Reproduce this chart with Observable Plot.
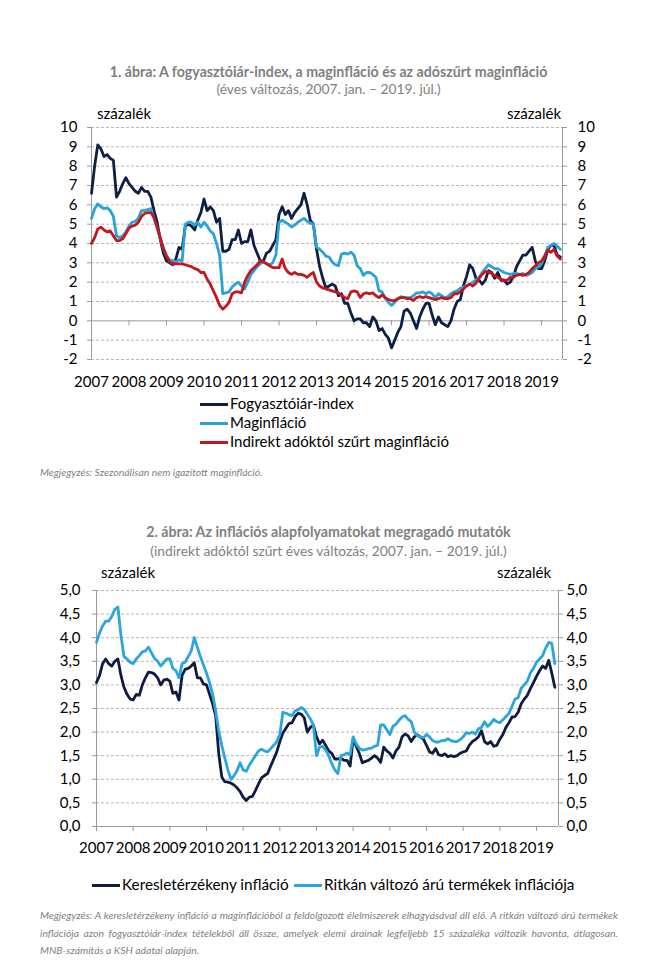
<!DOCTYPE html>
<html lang="hu"><head><meta charset="utf-8">
<script src="https://cdn.jsdelivr.net/npm/d3@7"></script>
<script src="https://cdn.jsdelivr.net/npm/@observablehq/plot@0.6"></script>
<style>
html,body{margin:0;padding:0;background:#fff}
body{width:657px;height:960px;position:relative;overflow:hidden;font-family:Lato,"Open Sans",sans-serif}
.a{position:absolute;white-space:nowrap}
.title{left:0;width:657px;text-align:center;color:#7f7f7f;font-weight:700;font-size:14.2px;line-height:16px}
.sub{left:0;width:657px;text-align:center;color:#7f7f7f;font-size:13.8px;line-height:16px}
.unit{font-size:15px;line-height:18px;color:#000}
.leg{font-size:15px;line-height:18px;color:#000}
.sw{display:inline-block;width:28px;height:3px;vertical-align:middle;margin-right:2px;position:relative;top:-1px}
.note{font-style:italic;color:#7f7f7f;font-size:10.4px;line-height:12px}
.just{width:578px;text-align:justify;text-align-last:justify;white-space:normal}
.chart{position:absolute;left:0}
</style></head><body>
<div id="c1" class="chart" style="top:100px"></div>
<div id="c2" class="chart" style="top:560px"></div>

<div class="a title" style="top:64px">1. ábra: A fogyasztóiár-index, a maginfláció és az adószűrt maginfláció</div>
<div class="a sub" style="top:81px">(éves változás, 2007. jan. – 2019. júl.)</div>
<div class="a unit" style="top:104px;left:97px">százalék</div>
<div class="a unit" style="top:104px;left:507px">százalék</div>
<div id="leg1"></div>
<div class="a note" style="top:466px;left:40px">Megjegyzés: Szezonálisan nem igazított maginfláció.</div>

<div class="a title" style="top:524px">2. ábra: Az inflációs alapfolyamatokat megragadó mutatók</div>
<div class="a sub" style="top:543px">(indirekt adóktól szűrt éves változás, 2007. jan. – 2019. júl.)</div>
<div class="a unit" style="top:563px;left:101px">százalék</div>
<div class="a unit" style="top:563px;left:497px">százalék</div>
<div id="leg2"></div>
<div class="a note just" style="top:909px;left:40px">Megjegyzés: A keresletérzékeny infláció a maginflációból a feldolgozott élelmiszerek elhagyásával áll elő. A ritkán változó árú termékek</div>
<div class="a note just" style="top:927px;left:40px">inflációja azon fogyasztóiár-index tételekből áll össze, amelyek elemi árainak legfeljebb 15 százaléka változik havonta, átlagosan.</div>
<div class="a note" style="top:944px;left:40px">MNB-számítás a KSH adatai alapján.</div>

<script>
// ---- data (monthly, 2007. jan. – 2019. júl.) ----
const years = ["2007","2008","2009","2010","2011","2012","2013","2014","2015","2016","2017","2018","2019"];

// 1. ábra
const cpi = [
  6.6, 8.0, 9.1, 8.9, 8.5, 8.6, 8.4, 8.3, 6.4, 6.7, 7.1, 7.4,
  7.1, 6.9, 6.7, 6.6, 6.9, 6.7, 6.7, 6.4, 5.7, 5.1, 4.2, 3.5,
  3.1, 3.0, 2.9, 3.2, 3.8, 3.7, 4.9, 5.0, 4.9, 4.7, 5.2, 5.6,
  6.3, 5.7, 5.9, 5.7, 5.1, 5.3, 3.6, 3.6, 3.7, 4.2, 4.2, 4.7,
  4.0, 4.1, 4.1, 4.7, 3.9, 3.5, 3.1, 3.1, 3.5, 3.6, 3.9, 4.2,
  5.5, 5.9, 5.5, 5.7, 5.3, 5.6, 5.8, 6.0, 6.6, 6.0, 5.2, 5.0,
  3.7, 2.8, 2.2, 1.7, 1.8, 1.9, 1.8, 1.3, 1.4, 0.9, 0.9, 0.4,
  0.0, 0.1, 0.1, -0.1, -0.1, -0.3, 0.2, 0.0, -0.5, -0.4, -0.7, -0.9,
  -1.4, -1.0, -0.6, -0.3, 0.5, 0.6, 0.4, 0.0, -0.4, 0.2, 0.6, 0.9,
  0.9, 0.3, -0.2, 0.2, -0.1, -0.2, -0.3, 0.0, 0.6, 1.0, 1.1, 1.8,
  2.3, 2.9, 2.7, 2.2, 2.1, 1.9, 2.1, 2.6, 2.5, 2.2, 2.5, 2.1,
  2.1, 1.9, 2.0, 2.3, 2.8, 3.1, 3.4, 3.4, 3.6, 3.8, 3.1, 2.7,
  2.7, 3.1, 3.7, 3.9, 3.9, 3.4, 3.3
];
const core = [
  5.3, 5.8, 6.05, 5.9, 5.8, 5.85, 5.7, 5.4, 4.4, 4.3, 4.4, 4.6,
  4.9, 5.1, 5.15, 5.3, 5.7, 5.7, 5.75, 5.8, 5.3, 4.8, 4.25, 3.75,
  3.35, 3.15, 3.1, 3.05, 3.15, 3.1, 5.0, 5.1, 5.1, 4.95, 5.1, 4.85,
  5.1, 4.9, 4.65, 4.5, 4.0, 3.4, 1.4, 1.45, 1.5, 1.75, 1.9, 2.0,
  1.8, 1.65, 2.0, 2.4, 2.6, 2.8, 2.95, 3.05, 2.95, 2.9, 3.0, 3.4,
  5.1, 5.2, 5.1, 5.0, 4.85, 4.95, 5.1, 5.2, 5.3, 5.15, 5.05, 5.0,
  3.8, 3.7, 3.55, 3.35, 3.3, 3.05, 2.9, 2.85, 3.45, 3.5, 3.45, 3.55,
  3.4, 2.85, 2.7, 2.35, 2.5, 2.5, 2.4, 2.25, 1.55, 1.5, 1.15, 0.95,
  0.8, 0.95, 1.15, 1.25, 1.2, 1.2, 1.2, 1.3, 1.45, 1.45, 1.5, 1.4,
  1.5, 1.4, 1.2, 1.4, 1.3, 1.2, 1.25, 1.4, 1.5, 1.55, 1.7, 1.75,
  1.8, 1.9, 2.0, 2.1, 2.25, 2.5, 2.7, 2.9, 2.8, 2.7, 2.7, 2.6,
  2.5, 2.45, 2.4, 2.45, 2.45, 2.4, 2.45, 2.35, 2.4, 2.5, 2.7, 2.8,
  2.95, 3.35, 3.8, 3.9, 4.0, 3.85, 3.7
];
const coreTaxFiltered = [
  4.0, 4.3, 4.75, 4.85, 4.7, 4.6, 4.65, 4.4, 4.15, 4.15, 4.25, 4.5,
  4.8, 4.9, 4.95, 5.1, 5.4, 5.55, 5.6, 5.6, 5.35, 4.85, 4.3, 3.75,
  3.35, 3.05, 2.95, 2.95, 2.95, 2.95, 2.9, 2.85, 2.8, 2.7, 2.65, 2.5,
  2.5, 2.15, 1.9, 1.55, 1.2, 0.8, 0.6, 0.75, 0.95, 1.4, 1.5, 1.5,
  1.45, 2.0, 2.35, 2.6, 2.75, 2.9, 3.1, 3.05, 2.95, 2.85, 2.75, 2.75,
  2.75, 3.2, 2.7, 2.5, 2.4, 2.5, 2.4, 2.4, 2.35, 2.25, 2.4, 2.5,
  2.0, 1.8, 1.7, 1.65, 1.6, 1.55, 1.5, 1.45, 1.3, 1.2, 1.15, 1.5,
  1.55, 1.5, 1.2, 1.4, 1.45, 1.4, 1.45, 1.3, 1.2, 1.35, 1.2, 1.1,
  1.05, 1.05, 1.15, 1.2, 1.2, 1.15, 1.15, 1.05, 1.2, 1.25, 1.2, 1.25,
  1.2, 1.15, 1.1, 1.15, 1.2, 1.15, 1.15, 1.2, 1.4, 1.4, 1.5, 1.65,
  1.8, 1.9, 1.8, 1.95, 2.2, 2.4, 2.55, 2.55, 2.45, 2.35, 2.25, 2.15,
  2.1, 2.1, 2.25, 2.25, 2.35, 2.4, 2.35, 2.4, 2.5, 2.7, 2.85, 3.0,
  3.1, 3.35, 3.65, 3.55, 3.7, 3.35, 3.2
];

// 2. ábra
const demandSensitive = [
  3.05, 3.2, 3.45, 3.55, 3.45, 3.4, 3.5, 3.55, 3.2, 2.95, 2.8, 2.7,
  2.68, 2.8, 2.78, 3.0, 3.15, 3.27, 3.26, 3.23, 3.15, 3.0, 3.1, 3.12,
  3.08, 2.82, 2.85, 2.68, 3.2, 3.33, 3.35, 3.4, 3.47, 3.15, 3.15, 3.02,
  3.0, 2.8, 2.6, 2.35, 1.55, 1.05, 0.95, 0.94, 0.92, 0.88, 0.82, 0.74,
  0.62, 0.55, 0.62, 0.64, 0.76, 0.9, 1.03, 1.08, 1.12, 1.28, 1.43, 1.58,
  1.8, 1.98, 2.08, 2.18, 2.2, 2.33, 2.4, 2.38, 2.3, 2.0, 2.1, 2.15,
  1.9, 1.75, 1.83, 1.72, 1.6, 1.55, 1.43, 1.43, 1.45, 1.4, 1.4, 1.28,
  1.85, 1.7, 1.55, 1.35, 1.38, 1.4, 1.45, 1.5, 1.45, 1.36, 1.68, 1.6,
  1.55, 1.45, 1.6, 1.68, 1.9, 1.96, 1.92, 1.8, 1.9, 1.94, 1.9, 1.85,
  1.72, 1.58, 1.55, 1.65, 1.52, 1.5, 1.54, 1.48, 1.5, 1.48, 1.5, 1.55,
  1.58, 1.6, 1.72, 1.8, 1.84, 1.9, 2.03, 1.8, 1.75, 1.8, 1.7, 1.72,
  1.85, 1.95, 2.1, 2.2, 2.32, 2.33, 2.42, 2.6, 2.7, 2.78, 2.92, 3.05,
  3.18, 3.3, 3.4, 3.35, 3.52, 3.25, 2.95
];
const stickyPrice = [
  3.9, 4.1, 4.25, 4.35, 4.35, 4.45, 4.6, 4.65, 4.05, 3.6, 3.55, 3.48,
  3.45, 3.55, 3.62, 3.7, 3.72, 3.8, 3.68, 3.56, 3.5, 3.4, 3.47, 3.55,
  3.55, 3.35, 3.3, 3.15, 3.45, 3.48, 3.6, 3.72, 4.0, 3.8, 3.6, 3.42,
  3.25, 3.05, 2.8, 2.45, 2.03, 1.72, 1.45, 1.2, 1.0, 1.08, 1.18, 1.35,
  1.2, 1.17, 1.3, 1.4, 1.5, 1.6, 1.64, 1.6, 1.58, 1.65, 1.72, 1.8,
  1.95, 2.42, 2.4, 2.37, 2.35, 2.45, 2.47, 2.52, 2.48, 2.38, 2.28, 2.15,
  1.5, 1.68, 1.7, 1.62, 1.5, 1.33, 1.2, 1.12, 1.5, 1.52, 1.56, 1.52,
  1.9, 1.75, 1.66, 1.62, 1.63, 1.65, 1.66, 1.7, 1.72, 2.15, 2.15, 2.05,
  1.95, 2.12, 2.17, 2.25, 2.32, 2.35, 2.27, 2.22, 2.0, 1.92, 1.9, 1.88,
  1.95, 1.9, 1.82, 1.79, 1.79, 1.82, 1.82, 1.86, 1.82, 1.8, 1.8, 1.84,
  1.9, 1.99, 1.97, 2.0, 1.96, 2.07, 2.1, 2.22, 2.12, 2.18, 2.27, 2.22,
  2.2, 2.26, 2.33, 2.4, 2.55, 2.7, 2.73, 2.93, 3.0, 3.08, 3.25, 3.35,
  3.48, 3.55, 3.62, 3.78, 3.9, 3.88, 3.45
];

const yTicks1 = [-2,-1,0,1,2,3,4,5,6,7,8,9,10];
const yTicks2 = [0,0.5,1,1.5,2,2.5,3,3.5,4,4.5,5];

const series1 = [
  {name:"Fogyasztóiár-index", values:cpi, color:"#0e1f45"},
  {name:"Maginfláció", values:core, color:"#27a3d9"},
  {name:"Indirekt adóktól szűrt maginfláció", values:coreTaxFiltered, color:"#c5161d"}
];
const series2 = [
  {name:"Keresletérzékeny infláció", values:demandSensitive, color:"#0f1c3f"},
  {name:"Ritkán változó árú termékek inflációja", values:stickyPrice, color:"#2aa6dc"}
];

// ---- helpers ----
const yearStarts = years.map((y,i)=>i*12);
const toRows = s => s.values.map((v,i)=>({m:i, v, name:s.name}));
const axisGray = "#9a9a9a";
const gridGray = "#b8b8b8";

function lineMarks(series){
  return series.map(s => Plot.line(toRows(s), {x:"m", y:"v", stroke:s.color, strokeWidth:2.8, strokeLinejoin:"round", strokeLinecap:"round"}));
}

// ---- chart 1 ----
const p1 = Plot.plot({
  width:657, height:295,
  marginLeft:91, marginRight:95, marginTop:27, marginBottom:36,
  x:{domain:[0,150.7], axis:null},
  y:{domain:[-2,10], axis:null},
  style:{fontFamily:"Lato, sans-serif", fontSize:"15px", color:"#000", background:"none"},
  marks:[
    Plot.gridY(yTicks1.filter(d=>d!==0), {stroke:gridGray, strokeOpacity:1, strokeDasharray:"3,2", strokeWidth:1}),
    Plot.ruleY([0], {stroke:axisGray, strokeWidth:1}),
    Plot.ruleX(yearStarts.slice(1), {y1:0, y2:0, insetBottom:-5, stroke:axisGray}),
    Plot.ruleX([0,150.7], {stroke:axisGray}),
    Plot.axisY({anchor:"left", ticks:yTicks1, tickSize:4, tickPadding:10, stroke:axisGray, label:null, tickFormat:d=>String(d)}),
    Plot.axisY({anchor:"right", ticks:yTicks1, tickSize:4, tickPadding:11, stroke:axisGray, label:null, tickFormat:d=>String(d)}),
    Plot.axisX({ticks:yearStarts, tickSize:0, tickPadding:17, label:null, tickFormat:d=>years[d/12]}),
    ...lineMarks(series1)
  ]
});
document.getElementById("c1").append(p1);

// ---- chart 2 ----
const fmt = d => d.toFixed(1).replace(".", ",");
const p2 = Plot.plot({
  width:657, height:300,
  marginLeft:96, marginRight:99, marginTop:30, marginBottom:34,
  x:{domain:[0,151.2], axis:null},
  y:{domain:[0,5], axis:null},
  style:{fontFamily:"Lato, sans-serif", fontSize:"15px", color:"#000", background:"none"},
  marks:[
    Plot.gridY(yTicks2.filter(d=>d!==0), {stroke:gridGray, strokeOpacity:1, strokeDasharray:"3,2", strokeWidth:1}),
    Plot.ruleY([0], {stroke:axisGray, strokeWidth:1}),
    Plot.ruleX([0,151.2], {stroke:axisGray}),
    Plot.axisY({anchor:"left", ticks:yTicks2, tickSize:4, tickPadding:12, stroke:axisGray, label:null, tickFormat:fmt}),
    Plot.axisY({anchor:"right", ticks:yTicks2, tickSize:4, tickPadding:4, stroke:axisGray, label:null, tickFormat:fmt}),
    Plot.axisX({ticks:yearStarts, tickSize:5, tickPadding:11, stroke:axisGray, label:null, tickFormat:d=>years[d/12]}),
    ...lineMarks(series2)
  ]
});
document.getElementById("c2").append(p2);

// ---- legends ----
const leg1 = document.getElementById("leg1");
series1.forEach((s,i)=>{
  const d = document.createElement("div");
  d.className = "a leg";
  d.style.left = "200px";
  d.style.top = (394 + i*19) + "px";
  d.innerHTML = `<span class="sw" style="background:${s.color}"></span>${s.name}`;
  leg1.append(d);
});
const leg2 = document.getElementById("leg2");
const lefts2 = [92, 294];
series2.forEach((s,i)=>{
  const d = document.createElement("div");
  d.className = "a leg";
  d.style.fontSize = "15.3px";
  d.style.left = lefts2[i] + "px";
  d.style.top = "875px";
  d.innerHTML = `<span class="sw" style="background:${s.color}"></span>${s.name}`;
  leg2.append(d);
});
</script>
</body></html>
